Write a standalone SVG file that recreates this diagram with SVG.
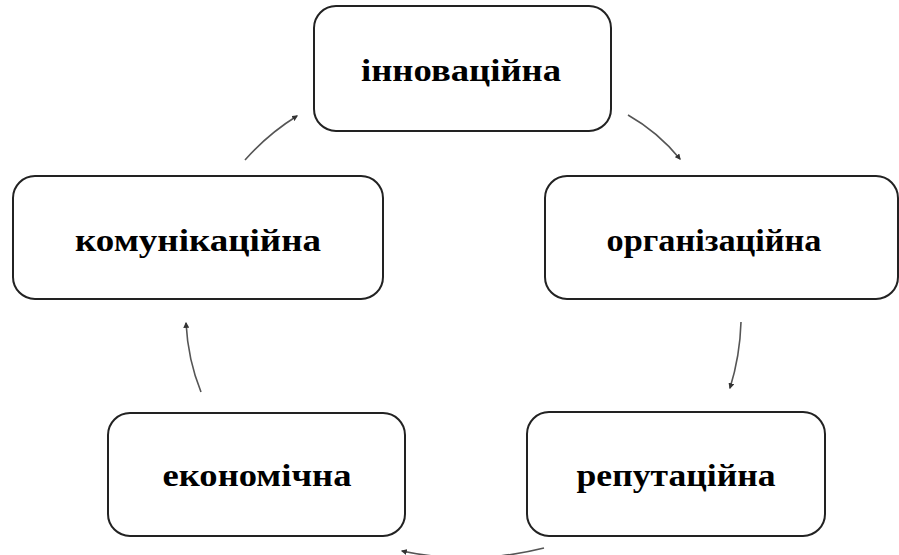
<svg xmlns="http://www.w3.org/2000/svg" width="899" height="555" viewBox="0 0 899 555">
<style>
.box{fill:#fff;stroke:#222;stroke-width:2}
.lbl{font-family:"Liberation Serif","Times New Roman",serif;font-weight:bold;font-size:32px;fill:#000;text-anchor:middle}
.con{fill:none;stroke:#555;stroke-width:1.6}
</style>
<defs>
<marker id="ah" viewBox="0 0 10 10" refX="8" refY="5" markerWidth="6" markerHeight="6" orient="auto" markerUnits="userSpaceOnUse">
<path d="M0,0 L10,5 L0,10 z" fill="#333"/>
</marker>
</defs>
<rect width="899" height="555" fill="#fff"/>
<g id="n-innovatsiina"><rect class="box" x="314" y="6" width="297" height="125" rx="22"/><text class="lbl" x="461" y="81" textLength="200" lengthAdjust="spacingAndGlyphs">інноваційна</text></g>
<g id="n-komunikatsiina"><rect class="box" x="13" y="176" width="370" height="123" rx="22"/><text class="lbl" x="198" y="251" textLength="246" lengthAdjust="spacingAndGlyphs">комунікаційна</text></g>
<g id="n-orhanizatsiina"><rect class="box" x="545" y="176" width="353" height="123" rx="22"/><text class="lbl" x="714" y="251" textLength="215" lengthAdjust="spacingAndGlyphs">організаційна</text></g>
<g id="n-ekonomichna"><rect class="box" x="108" y="413" width="297" height="123" rx="22"/><text class="lbl" x="257" y="486" textLength="189" lengthAdjust="spacingAndGlyphs">економічна</text></g>
<g id="n-reputatsiina"><rect class="box" x="527" y="412" width="298" height="124" rx="22"/><text class="lbl" x="676" y="486" textLength="199" lengthAdjust="spacingAndGlyphs">репутаційна</text></g>
<g id="connectors">
<path class="con" d="M245,160 Q268,134 297,116" marker-end="url(#ah)"/>
<path class="con" d="M628,115 Q658,132 680,159" marker-end="url(#ah)"/>
<path class="con" d="M741,322 Q740,356 730,388" marker-end="url(#ah)"/>
<path class="con" d="M544,548 Q472,566 402,551" marker-end="url(#ah)"/>
<path class="con" d="M201,392 Q188,360 186,323" marker-end="url(#ah)"/>
</g>
</svg>
